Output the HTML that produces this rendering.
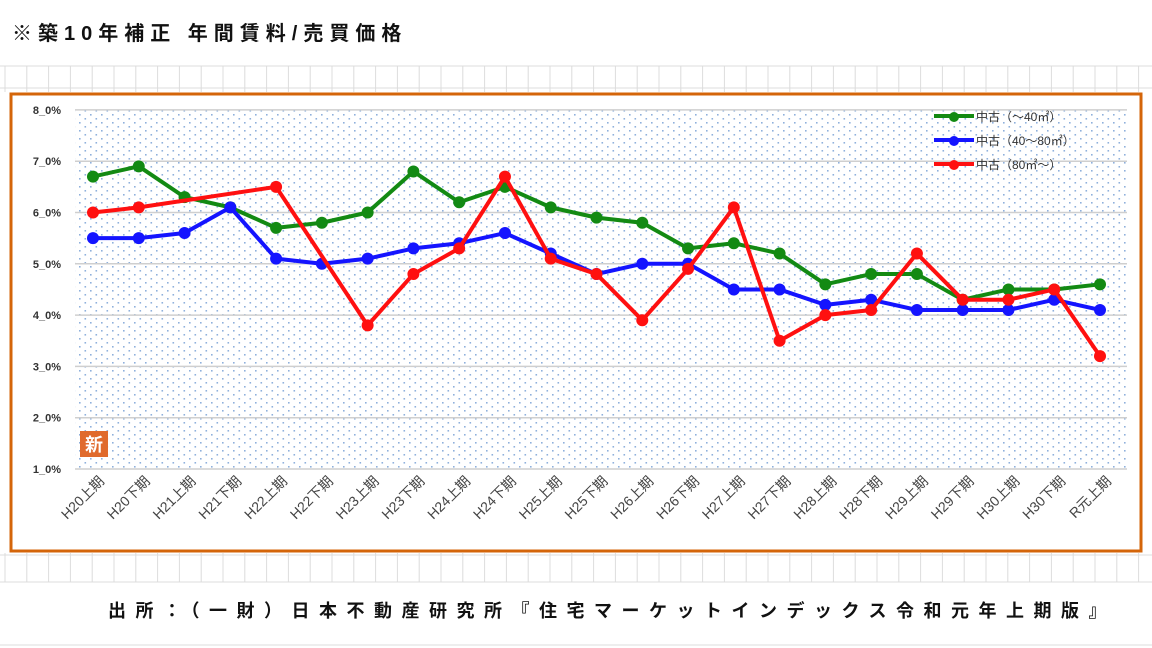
<!DOCTYPE html>
<html><head><meta charset="utf-8"><style>
body{margin:0;background:#fff;}
svg{display:block;font-family:"Liberation Sans","Noto Sans CJK JP",sans-serif;}
</style></head><body>
<svg id="c" width="1152" height="648" xmlns="http://www.w3.org/2000/svg">
<defs><pattern id="dots" width="11" height="8" patternUnits="userSpaceOnUse"><rect x="2" y="2" width="1.6" height="1.6" fill="#8fb0dc"/><rect x="7.5" y="6" width="1.6" height="1.6" fill="#8fb0dc"/></pattern></defs>
<g id="sheet" stroke="#dcdcdc" stroke-width="1"></g>
<text x="12" y="40" font-size="20" font-weight="bold" fill="#111" letter-spacing="6">※築10年補正 年間賃料/売買価格</text>
<rect x="11" y="94" width="1130" height="457" fill="#fff" stroke="#d4650a" stroke-width="3"/>
<rect x="75" y="110" width="1052" height="359" fill="url(#dots)"/>
<g id="grid"></g>
<g id="yt"></g>
<g id="xt"></g>
<g id="series"></g>
<rect x="80" y="431" width="28" height="26" fill="#e06a2c"/>
<text x="94" y="451" font-size="18" font-weight="bold" fill="#fff" text-anchor="middle">新</text>
<g id="legend"></g>
<text x="1116" y="617" font-size="18" font-weight="bold" fill="#111" text-anchor="end" letter-spacing="9.5">出所：（一財）日本不動産研究所『住宅マーケットインデックス令和元年上期版』</text>
</svg>
<script>
const categories=["H20上期","H20下期","H21上期","H21下期","H22上期","H22下期","H23上期","H23下期","H24上期","H24下期","H25上期","H25下期","H26上期","H26下期","H27上期","H27下期","H28上期","H28下期","H29上期","H29下期","H30上期","H30下期","R元上期"];
const greenValues=[6.7,6.9,6.3,6.1,5.7,5.8,6.0,6.8,6.2,6.5,6.1,5.9,5.8,5.3,5.4,5.2,4.6,4.8,4.8,4.3,4.5,4.5,4.6];
const blueValues=[5.5,5.5,5.6,6.1,5.1,5.0,5.1,5.3,5.4,5.6,5.2,4.8,5.0,5.0,4.5,4.5,4.2,4.3,4.1,4.1,4.1,4.3,4.1];
const redValues=[6.0,6.1,null,null,6.5,null,3.8,4.8,5.3,6.7,5.1,4.8,3.9,4.9,6.1,3.5,4.0,4.1,5.2,4.3,4.3,4.5,3.2];
const yTicks=[1,2,3,4,5,6,7,8];
const seriesNames=["中古（～40㎡）","中古（40～80㎡）","中古（80㎡～）"];
const NS="http://www.w3.org/2000/svg";
const X=i=>93+i*(1100-93)/(categories.length-1);
const Y=v=>469-(v-1)*51.3;
function mk(t,a,p){const e=document.createElementNS(NS,t);for(const k in a)e.setAttribute(k,a[k]);p.appendChild(e);return e;}
const sh=document.getElementById('sheet');
[66,88,555,582,645].forEach(y=>{const l=mk('line',{x1:0,x2:1152,y1:y,y2:y},sh);});
for(let x=5;x<1152;x+=21.8){const l=mk('line',{x1:x,x2:x,y1:66,y2:92},sh);
const l2=mk('line',{x1:x,x2:x,y1:553,y2:582},sh);}
const g=document.getElementById('grid'),yt=document.getElementById('yt'),xt=document.getElementById('xt');
yTicks.forEach(v=>{const l=mk('line',{x1:75,x2:1127,y1:Y(v),y2:Y(v),stroke:'#cfcfcf','stroke-width':1.5},g);

const t=mk('text',{x:61,y:Y(v)+4,'font-size':11,'font-weight':'bold','text-anchor':'end',fill:'#333'},yt);t.textContent=v.toFixed(1).replace('.','_')+'%';
});
categories.forEach((c,i)=>{const x=X(i)+12,y=482;const t=mk('text',{x:x,y:y,'font-size':14,'text-anchor':'end',fill:'#444',transform:`rotate(-45 ${x} ${y})`},xt);t.textContent=c;
});
const S=document.getElementById('series');
function draw(vals,col,name){const pts=[];vals.forEach((v,i)=>{if(v!=null)pts.push([X(i),Y(v)]);});
const p=mk('polyline',{points:pts.map(q=>q.join(',')).join(' '),fill:'none',stroke:col,'stroke-width':4,'stroke-linejoin':'round'},S);

pts.forEach(q=>{const c=mk('circle',{cx:q[0],cy:q[1],r:6,fill:col},S);});}
draw(greenValues,'#138a13','green-series');draw(blueValues,'#1414ff','blue-series');draw(redValues,'#ff1010','red-series');
const L=document.getElementById('legend');const cols=['#138a13','#1414ff','#ff1010'];
seriesNames.forEach((n,i)=>{const y=116+i*24;
const l=mk('line',{x1:934,x2:974,y1:y,y2:y,stroke:cols[i],'stroke-width':4},L);
const c=mk('circle',{cx:954,cy:y+1,r:5,fill:cols[i]},L);
const t=mk('text',{x:976,y:y+5,'font-size':12,fill:'#333'},L);t.textContent=n;});
</script>
</body></html>
